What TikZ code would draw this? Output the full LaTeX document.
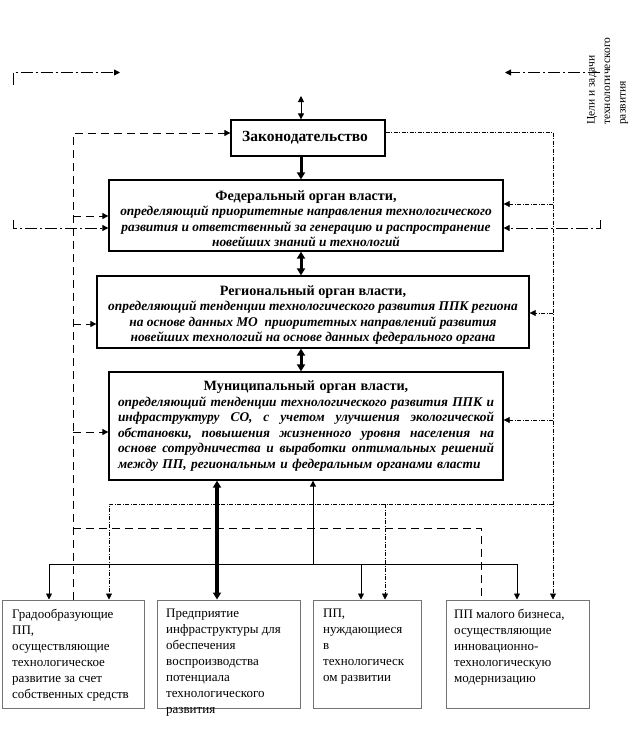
\documentclass[tikz,border=0pt]{standalone}
\usepackage{fontspec}
\setmainfont{Liberation Serif}
\usetikzlibrary{arrows.meta}
\newcommand{\jline}[1]{\noindent\hbox to 376pt{#1}}
\tikzset{
  arr/.tip={Triangle[length=6pt,width=6pt]},
  big/.tip={Triangle[length=7pt,width=8pt]},
  topbox/.style={draw,line width=1.3pt,inner sep=0pt},
  lowbox/.style={draw=black!55,line width=1pt,inner sep=0pt},
  lowtext/.style={inner sep=0pt,anchor=north west,align=left,font=\fontsize{13}{16}\selectfont},
  hdr/.style={font=\fontsize{13.4}{15.6}\selectfont\bfseries},
  ldash/.style={line width=0.9pt,dash pattern=on 8pt off 5pt},
  gdash/.style={line width=0.9pt,dash pattern=on 12pt off 3pt on 2pt off 3pt},
  fdash/.style={line width=0.7pt,dash pattern=on 4pt off 1.5pt on 1pt off 1.5pt},
  solid1/.style={line width=0.9pt},
  heavy/.style={line width=3pt},
  heavier/.style={line width=4.5pt}
}
\begin{document}
\begin{tikzpicture}[x=1pt,y=-1pt]
\useasboundingbox (0,0) rectangle (628,745);
% boxes
\node[topbox,minimum width=154pt,minimum height=36pt,font=\fontsize{15.5}{18}\selectfont\bfseries] (zak) at (308,138) {\hspace*{-6pt}Законодательство};
\node[topbox,hdr,minimum width=394pt,minimum height=71pt,align=center] (fed) at (306,215.5)
 {\rule{0pt}{16pt}{\fontsize{14.2}{15.6}\selectfont Федеральный орган власти,}\\ \itshape определяющий приоритетные направления технологического\\ \itshape развития и ответственный за генерацию и распространение\\ \itshape новейших знаний и технологий};
\node[topbox,hdr,minimum width=432pt,minimum height=72pt,align=center] (reg) at (313,312)
 {\rule{0pt}{16pt}{\fontsize{14.2}{15.6}\selectfont Региональный орган власти,}\\ \itshape определяющий тенденции технологического развития ППК региона\\ \itshape на основе данных МО\ \ приоритетных направлений развития\\ \itshape новейших технологий на основе данных федерального органа};
\node[topbox,hdr,minimum width=394pt,minimum height=108pt,text width=376pt,align=left] (mun) at (306,426)
 {\jline{\hfil\fontsize{14.2}{15.6}\selectfont Муниципальный орган власти,\hfil}\\
  \itshape\jline{определяющий\hfill тенденции\hfill технологического\hfill развития\hfill ППК\hfill и}\\
  \itshape\jline{инфраструктуру\hfill СО,\hfill с\hfill учетом\hfill улучшения\hfill экологической}\\
  \itshape\jline{обстановки,\hfill повышения\hfill жизненного\hfill уровня\hfill населения\hfill на}\\
  \itshape\jline{основе\hfill сотрудничества\hfill и\hfill выработки\hfill оптимальных\hfill решений}\\
  \itshape между ПП, региональным и федеральным органами власти};
\node[lowbox,minimum width=142pt,minimum height=108pt] (b1) at (73,654) {};
\node[lowbox,minimum width=143pt,minimum height=108pt] (b2) at (228.5,654) {};
\node[lowbox,minimum width=108pt,minimum height=108pt] (b3) at (367,654) {};
\node[lowbox,minimum width=143pt,minimum height=108pt] (b4) at (517.5,654) {};
\node[lowtext] (t1) at (12,609) {Градообразующие\\ПП,\\осуществляющие\\технологическое\\развитие за счет\\собственных средств};
\node[lowtext] (t2) at (166,609) {Предприятие\\инфраструктуры для\\обеспечения\\воспроизводства\\потенциала\\технологического\\развития};
\node[lowtext] (t3) at (323,609) {ПП,\\нуждающиеся\\в\\технологическ\\ом развитии};
\node[lowtext] (t4) at (454,609) {ПП малого бизнеса,\\осуществляющие\\инновационно-\\технологическую\\модернизацию};
\node[inner sep=0pt,rotate=90,anchor=north west,align=left,font=\fontsize{11.5}{15.5}\selectfont] (goal) at (587,125)
 {Цели и задачи\\технологического\\развития};
% coordinates for free ends and columns
\coordinate (ax) at (301,0);
\coordinate (lx) at (73,133);
\coordinate (rx) at (553,132);
\coordinate (top) at (301,96);
\coordinate (tl0) at (13,85);
\coordinate (tl1) at (13,72.5);
\coordinate (tlE) at (120,72.5);
\coordinate (trS) at (600,72.5);
\coordinate (trE) at (505,72.5);
\coordinate (fl0) at (13,220);
\coordinate (fl1) at (13,228);
\coordinate (fr0) at (600,220);
\coordinate (fr1) at (600,228);
% vertical chain
\draw[solid1,arr-arr] (top) -- (zak.north -| ax);
\draw[heavy,-big] (zak.south -| ax) -- (fed.north -| ax);
\draw[heavy,big-big] (fed.south -| ax) -- (reg.north -| ax);
\draw[heavy,big-big] (reg.south -| ax) -- (mun.north -| ax);
% goals lines
\draw[gdash,-arr] (tl0) -- (tl1) -- (tlE);
\draw[gdash,-arr] (trS) -- (trE);
\draw[gdash,-arr] (fl0) -- (fl1) -- (fl1 -| fed.west);
\draw[gdash,-arr] (fr0) -- (fr1) -- (fr1 -| fed.east);
% left dashed network
\draw[ldash,-arr] (b1.north -| lx) -- (lx) -- (lx -| zak.west);
\draw[ldash,-arr] (lx |- 0,216) -- (fed.west |- 0,216);
\draw[ldash,-arr] (lx |- 0,324) -- (reg.west |- 0,324);
\draw[ldash,-arr] (lx |- 0,432) -- (mun.west |- 0,432);
\draw[ldash] (lx |- 0,528) -| (b4.north -| 481,0);
% right fine network
\draw[fdash,-arr] (rx -| zak.east) -- (rx) -- (b4.north -| rx);
\draw[fdash,-arr] (rx |- 0,204) -- (fed.east |- 0,204);
\draw[fdash,-arr] (rx |- 0,313) -- (reg.east |- 0,313);
\draw[fdash,-arr] (rx |- 0,420) -- (mun.east |- 0,420);
\draw[fdash,-arr] (rx |- 0,504) -| (b1.north -| 109,0);
\draw[fdash,-arr] (385,504) -- (b3.north -| 385,0);
% solid network
\draw[solid1,-arr] (313,564) -- (mun.south -| 313,0);
\draw[solid1] (49,564) -- (517,564);
\draw[solid1,-arr] (49,564) -- (b1.north -| 49,0);
\draw[solid1,-arr] (361,564) -- (b3.north -| 361,0);
\draw[solid1,-arr] (517,564) -- (b4.north -| 517,0);
\draw[heavier,big-big] (b2.north -| 217,0) -- (mun.south -| 217,0);
\end{tikzpicture}
\end{document}
